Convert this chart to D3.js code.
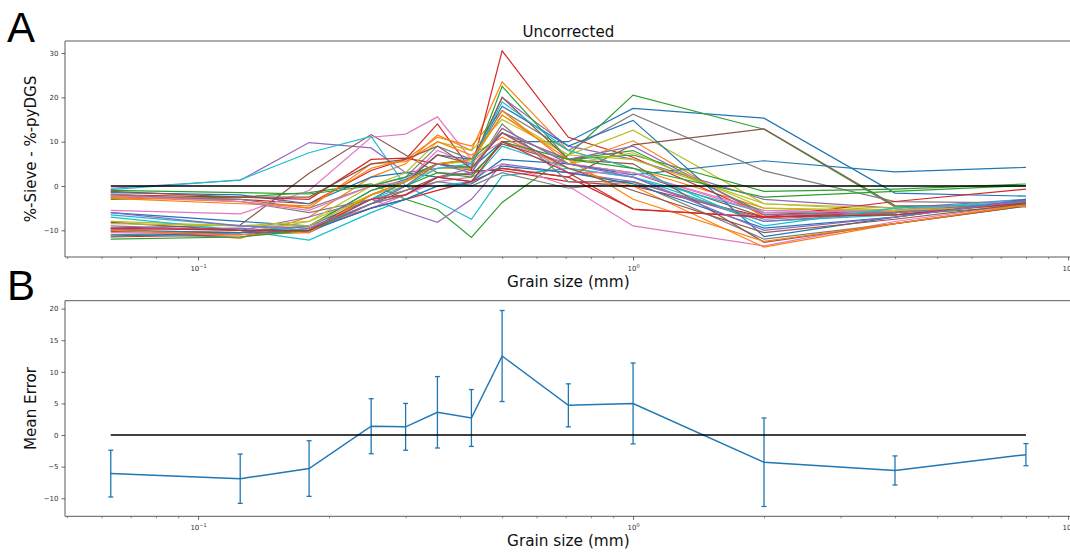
<!DOCTYPE html>
<html>
<head>
<meta charset="utf-8">
<script src="https://cdn.jsdelivr.net/npm/d3@7"></script>
<style>
  body { margin: 0; background: #fff; }
  svg { display: block; }
  text { font-family: "DejaVu Sans", sans-serif; }
</style>
</head>
<body>
<svg id="fig" width="1070" height="552"></svg>
<script>
// Sieve sizes (mm)
const grainSizes = [0.063, 0.125, 0.18, 0.25, 0.3, 0.355, 0.425, 0.5, 0.71, 1.0, 2.0, 4.0, 8.0];

// Per-sample difference, %-Sieve minus %-pyDGS, one row per sample
const sampleErrors = [
  [-6, -8, -9, -1, 1.5, 5, 4, 10, 10, 17.5, 15.3, -1.6, -2.3],
  [-9.5, -11.8, -7, 2, 5, 11.5, 8, 23.5, 8, 4, -5, -6, -3.5],
  [-3, -2.5, -1.5, 0.5, -3, -5.3, -11.6, -3.7, 7, 20.5, 12.8, -4.7, -4.3],
  [-2.5, -3, -4, 3.5, 6, 14, 3.6, 30.5, 11, 6.5, -6.5, -5.5, -3.5],
  [-0.5, 1.3, 9.8, 8.6, 3, 4, 4.5, 20, 9, 6, -3, -5, -3],
  [-9.5, -8.8, 2.9, 11.6, 7, 3, 2.5, 9.5, 5, 3, -7, -6, -3.8],
  [-5.5, -6.3, -1, 11, 11.7, 15.6, 6, 10, 5, 3, -5.5, -6, -3.5],
  [-2.2, -3, -5, 0, 2, 9, 6, 17, 8, 16.2, 3.4, -3.5, -3.8],
  [-10, -10.5, -8, -2, 0, 5, 5.5, 16, 7, 12.6, -4, -5.5, -4],
  [-0.8, 1.4, 7.5, 11.2, 0, -3.5, -7.5, 2.3, 4, 2, -8, -6.5, -3.2],
  [-1.5, -2, -4, 2, 3, 2, 1, 6, 5, 2.5, 5.7, 3.2, 4.2],
  [-2.8, -4, -4.5, 4, 6, 11, 9, 17, 5, 10.2, -7, -5.8, -3.5],
  [-11, -10.5, -9, -1, 1, 5, 4, 22.5, 6, 8, -6, -6.5, -4.5],
  [-2, -2.5, -3, 6, 6.3, 5, 3.5, 3.5, 1, 0, -7, -3.5, -0.7],
  [-9, -10, -7, -3, -5.8, -8.2, -3, 5, 3, 1, -8, -6, -3.5],
  [-10.3, -10.5, -10, -4, -1, 2, 3, 4, 2, 9.3, 12.9, -4.4, -4.7],
  [-10.5, -11, -9, -5, -2, 1, 2, 5, 0, -9, -13.5, -8, -4],
  [-1.8, -3.5, -6, -3, -1, 1, 0, 3, -0.5, 1, -12, -8.5, -4.5],
  [-8, -9, -8, 0, 3, 10, 8, 15, 7, 6, -4, -5, -4],
  [-7, -10, -12.2, -6, -3, 0, 1, 9, 4, 2, -6, -5.5, -3],
  [-10, -10.5, -9, -3, 1, 7, 6, 18, 9, 14.8, -11.4, -7, -3],
  [-2.5, -3.5, -5, 5, 5.5, 10, 7, 11, 4, 0, -13.8, -8.5, -4.2],
  [-1, -1.5, -1.8, 0, 2, 5, 6, 12, 6, 7, -1.2, -0.7, 0.45],
  [-11.5, -11, -10, -5, -3, -1, 1, 4, 2, -5.2, -7, -6, -3.5],
  [-9.8, -9.5, -10.5, -4, -2, 2, 4, 12, 6, 9, -6.5, -6, -4],
  [-8.2, -10, -10, -2, 1, 7, 5, 20, 6, 5, -12.7, -8.5, -4.5],
  [-2.2, -3.5, -5.5, 0, 1, 8, 5, 12, 3, 3, -6, -5.5, -3.3],
  [-11, -11.5, -9.5, -4, -2, 2, 3, 14, 1, 1, -7.5, -6, -3.5],
  [-8.5, -9, -9, -2, 1, 4, 4, 13, 5, 7.5, -5, -5.5, -4.5],
  [-6.5, -9, -10, -3, 0, 4, 5, 19, 8, 4, -9, -5, -3.8],
  [-11.3, -10.5, -10.2, -5, -3, 0, 0.5, 4.5, 3, 0.5, -9.5, -7, -3.2],
  [-10, -11, -10.5, -2, 1, 5, 6, 16, 6, -3, -12.5, -8.5, -4.3],
  [-12, -11.5, -10, -4, 0, 3, 2, 10, 6, 4, -2.5, -1.2, 0.1],
  [-9.5, -10, -10, -3, -2, 2, 1, 10, 3, -5.3, -7, -6.5, -3.8],
  [-6, -9, -9.5, -4, 0, 5, 3, 13, 5, 2, -10, -7, -3.3],
  [-1.2, -2.5, -2.5, 5, 6, 9, 4, 12, 4, -1, -10.5, -7.5, -4]
];

// Mean error per sieve size and its spread (error bar half-length)
const meanError = [-6.1, -6.9, -5.3, 1.4, 1.3, 3.6, 2.7, 12.5, 4.7, 5.0, -4.3, -5.6, -3.1];
const errorSpread = [3.7, 3.9, 4.4, 4.35, 3.7, 5.65, 4.5, 7.2, 3.4, 6.4, 7.0, 2.3, 1.75];

const yTicksA = [-10, 0, 10, 20, 30];
const yTicksB = [-10, -5, 0, 5, 10, 15, 20];
const xMajorTicks = [0.1, 1, 10];
const xMajorLabels = [["10", "\u22121"], ["10", "0"], ["10", "1"]];

const palette = ["#1f77b4", "#ff7f0e", "#2ca02c", "#d62728", "#9467bd",
                 "#8c564b", "#e377c2", "#7f7f7f", "#bcbd22", "#17becf"];

const svg = d3.select("#fig");
const axLeft = 65, axRight = 1071.7;
const spineColor = "#5a5a5a";
const tickColor = "#444";

// Log x range padded by 5% on each side
const lx0 = Math.log10(d3.min(grainSizes)), lx1 = Math.log10(d3.max(grainSizes));
const lpad = (lx1 - lx0) * 0.05;
const x = d3.scaleLog()
  .domain([Math.pow(10, lx0 - lpad), Math.pow(10, lx1 + lpad)])
  .range([axLeft, axRight]);

function paddedDomain(lo, hi) {
  const p = (hi - lo) * 0.05;
  return [lo - p, hi + p];
}

const minorTicks = [];
for (const dec of [0.01, 0.1, 1]) {
  for (let k = 2; k <= 9; k++) {
    const v = k * dec;
    if (v >= x.domain()[0] && v <= x.domain()[1]) minorTicks.push(v);
  }
}

const fmtMinus = d => (d < 0 ? "\u2212" + Math.abs(d) : String(d));

function drawFrame(top, bottom, y, yTicks) {
  const g = svg.append("g");
  // spines: left, top, bottom
  g.append("path")
    .attr("d", `M${axLeft},${top}H${axRight}M${axLeft},${top}V${bottom}H${axRight}`)
    .attr("fill", "none").attr("stroke", spineColor).attr("stroke-width", 1);

  // y axis
  const ya = g.append("g").attr("transform", `translate(${axLeft},0)`)
    .call(d3.axisLeft(y).tickValues(yTicks).tickSize(3.5).tickPadding(3).tickFormat(fmtMinus));
  ya.select(".domain").remove();
  ya.selectAll("line").attr("stroke", tickColor).attr("stroke-width", 0.8);
  ya.selectAll("text").attr("font-size", 7).attr("fill", "#333")
    .style("font-family", "DejaVu Sans, sans-serif");

  // x axis minor ticks
  const xm = g.append("g").attr("transform", `translate(0,${bottom})`)
    .call(d3.axisBottom(x).tickValues(minorTicks).tickSize(2).tickFormat(""));
  xm.select(".domain").remove();
  xm.selectAll("line").attr("stroke", tickColor).attr("stroke-width", 0.6);

  // x axis major ticks with power-of-ten labels
  const xa = g.append("g").attr("transform", `translate(0,${bottom})`)
    .call(d3.axisBottom(x).tickValues(xMajorTicks).tickSize(3.5).tickFormat(""));
  xa.select(".domain").remove();
  xa.selectAll("line").attr("stroke", tickColor).attr("stroke-width", 0.8);
  xa.selectAll(".tick").each(function (d, i) {
    const t = d3.select(this).append("text")
      .attr("y", 14).attr("fill", "#333").attr("font-size", 7)
      .attr("text-anchor", "middle")
      .style("font-family", "DejaVu Sans, sans-serif");
    t.append("tspan").text(xMajorLabels[i][0]);
    t.append("tspan").attr("dy", -3.5).attr("font-size", 5).text(xMajorLabels[i][1]);
  });

  // x label
  g.append("text")
    .attr("x", (axLeft + axRight) / 2).attr("y", bottom + 30)
    .attr("text-anchor", "middle").attr("font-size", 15.3).attr("fill", "#111")
    .text("Grain size (mm)");
  return g;
}

// ---------- Panel A: individual samples ----------
const topA = 41, botA = 257;
const allA = sampleErrors.flat();
const yA = d3.scaleLinear().domain(paddedDomain(d3.min(allA), d3.max(allA))).range([botA, topA]);
const gA = drawFrame(topA, botA, yA, yTicksA);

const lineA = d3.line().x((d, i) => x(grainSizes[i])).y(d => yA(d));
gA.append("g").selectAll("path")
  .data(sampleErrors)
  .join("path")
  .attr("d", lineA)
  .attr("fill", "none")
  .attr("stroke", (d, i) => palette[i % palette.length])
  .attr("stroke-width", 1.2);

// zero reference
gA.append("path")
  .attr("d", d3.line()([[x(grainSizes[0]), yA(0)], [x(grainSizes[grainSizes.length - 1]), yA(0)]]))
  .attr("stroke", "#000").attr("stroke-width", 1.4);

gA.append("text")
  .attr("x", (axLeft + axRight) / 2).attr("y", 37)
  .attr("text-anchor", "middle").attr("font-size", 15).attr("fill", "#111")
  .text("Uncorrected");

gA.append("text")
  .attr("transform", `translate(36,${(topA + botA) / 2}) rotate(-90)`)
  .attr("text-anchor", "middle").attr("font-size", 15).attr("fill", "#111")
  .text("%-Sieve - %-pyDGS");

// ---------- Panel B: mean error with spread ----------
const topB = 300.7, botB = 516.3;
const lows = meanError.map((m, i) => m - errorSpread[i]);
const highs = meanError.map((m, i) => m + errorSpread[i]);
const yB = d3.scaleLinear().domain(paddedDomain(d3.min(lows), d3.max(highs))).range([botB, topB]);
const gB = drawFrame(topB, botB, yB, yTicksB);

const blue = "#1f77b4";
gB.append("path")
  .datum(meanError)
  .attr("d", d3.line().x((d, i) => x(grainSizes[i])).y(d => yB(d)))
  .attr("fill", "none").attr("stroke", blue).attr("stroke-width", 1.5);

const bars = gB.append("g").attr("stroke", blue).attr("stroke-width", 1.3);
grainSizes.forEach((s, i) => {
  const cx = x(s);
  bars.append("line").attr("x1", cx).attr("x2", cx).attr("y1", yB(lows[i])).attr("y2", yB(highs[i]));
  bars.append("line").attr("x1", cx - 2.5).attr("x2", cx + 2.5).attr("y1", yB(lows[i])).attr("y2", yB(lows[i]));
  bars.append("line").attr("x1", cx - 2.5).attr("x2", cx + 2.5).attr("y1", yB(highs[i])).attr("y2", yB(highs[i]));
});

gB.append("path")
  .attr("d", d3.line()([[x(grainSizes[0]), yB(0)], [x(grainSizes[grainSizes.length - 1]), yB(0)]]))
  .attr("stroke", "#000").attr("stroke-width", 1.4);

gB.append("text")
  .attr("transform", `translate(36,${(topB + botB) / 2}) rotate(-90)`)
  .attr("text-anchor", "middle").attr("font-size", 15.2).attr("fill", "#111")
  .text("Mean Error");

// ---------- Panel letters ----------
svg.append("text").attr("x", 7).attr("y", 42)
  .attr("font-size", 42).attr("fill", "#000")
  .style("font-family", "Liberation Sans, Arial, sans-serif").text("A");
svg.append("text").attr("x", 7).attr("y", 300)
  .attr("font-size", 42).attr("fill", "#000")
  .style("font-family", "Liberation Sans, Arial, sans-serif").text("B");
</script>
</body>
</html>
